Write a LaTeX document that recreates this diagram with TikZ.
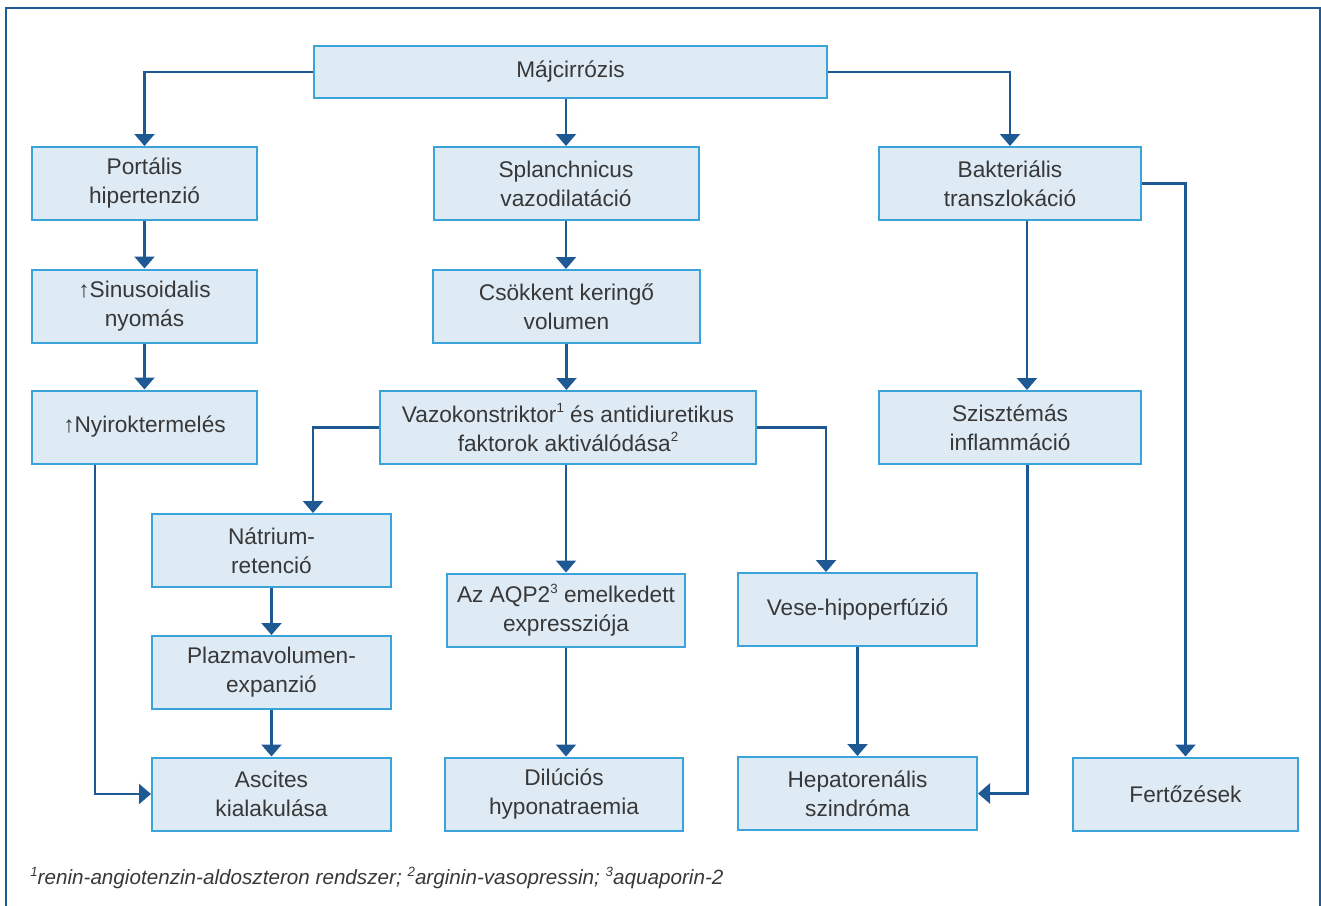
\documentclass[tikz,border=0pt]{standalone}
\usepackage{fontspec}
\setmainfont{Liberation Sans}
\usetikzlibrary{arrows.meta,calc,positioning}
\definecolor{framecol}{HTML}{1F5B98}
\definecolor{arrowcol}{HTML}{1E5994}
\definecolor{boxline}{HTML}{3AA3DA}
\definecolor{boxfill}{HTML}{DEEBF5}
\definecolor{textcol}{HTML}{383838}
\newcommand{\supnum}[1]{\raisebox{0.42em}{\fontsize{10}{10}\selectfont #1}}

\begin{document}
\begin{tikzpicture}[
  x=0.75pt, y=-0.75pt,
  box/.style={rectangle, draw=boxline, fill=boxfill, line width=1.5pt, inner sep=0pt,
    minimum width=179.25pt, minimum height=54.75pt, align=center, text=textcol,
    font=\fontsize{17}{21.75}\selectfont},
  arr/.style={-{Triangle[width=15pt,length=9pt]}, line width=1.7pt, arrowcol}
]
  \useasboundingbox (0,0) rectangle (1321,906);
  \draw[framecol, line width=1.3pt] (6,906) -- (6,8) -- (1320,8) -- (1320,906);

  % top row
  \node[box, minimum width=384.75pt, minimum height=39pt] (maj) at (570.5,72) {Májcirrózis};
  \node[box, minimum width=168.75pt] (port) at (144.5,183.5) {Portális\\hipertenzió};
  \node[box, minimum width=198.75pt] (splanch) at (566,183.5) {Splanchnicus\\vazodilatáció};
  \node[box, minimum width=196.5pt] (bakt) at (1010,183.5) {Bakteriális\\transzlokáció};

  % second and third rows
  \node[box, minimum width=168.75pt] (sinus) at (144.5,306) {↑Sinusoidalis\\nyomás};
  \node[box, minimum width=200.25pt] (csokk) at (566.5,306.5) {Csökkent keringő\\volumen};
  \node[box, minimum width=168.75pt] (nyirok) at (144.5,427) {↑Nyiroktermelés};
  \node[box, minimum width=282pt] (vazo) at (568,427.5)
    {Vazokonstriktor\supnum{1} és antidiuretikus\\faktorok aktiválódása\supnum{2}};
  \node[box, minimum width=196.5pt] (sziszt) at (1010,427.5) {Szisztémás\\inflammáció};

  % lower rows
  \node[box] (natr) at (271.5,550.5) {Nátrium-\\retenció};
  \node[box, minimum width=178.5pt] (aqp) at (566,610)
    {Az AQP2\supnum{3} emelkedett\\expressziója};
  \node[box] (vese) at (857.5,609.5) {Vese-hipoperfúzió};
  \node[box] (plazma) at (271.5,672.5) {Plazmavolumen-\\expanzió};

  % outcomes
  \node[box] (asc) at (271.5,794) {Ascites\\kialakulása};
  \node[box, minimum width=178.5pt] (dil) at (564,794) {Dilúciós\\hyponatraemia};
  \node[box] (hep) at (857.5,793.5) {Hepatorenális\\szindróma};
  \node[box, minimum width=168.75pt] (fert) at (1185.5,794) {Fertőzések};

  % connectors
  \draw[arr] (maj.west) -| (port.north);
  \draw[arr] (maj.south -| splanch.north) -- (splanch.north);
  \draw[arr] (maj.east) -| (bakt.north);
  \draw[arr] (port.south) -- (sinus.north);
  \draw[arr] (sinus.south) -- (nyirok.north);
  \draw[arr] ($(nyirok.south)+(-49.5,0)$) |- (asc.west);
  \draw[arr] (splanch.south) -- (splanch.south |- csokk.north);
  \draw[arr] (csokk.south) -- (csokk.south |- vazo.north);
  \draw[arr] (vazo.west) -| ($(natr.north)+(41.5,0)$);
  \draw[arr] (vazo.south -| aqp.north) -- (aqp.north);
  \draw[arr] (vazo.east) -| ($(vese.north)+(-31.5,0)$);
  \draw[arr] (natr.south) -- (plazma.north);
  \draw[arr] (plazma.south) -- (asc.north);
  \draw[arr] (aqp.south) -- (aqp.south |- dil.north);
  \draw[arr] (vese.south) -- (hep.north);
  \draw[arr] ($(bakt.south)+(17,0)$) -- ($(sziszt.north)+(17,0)$);
  \draw[arr] (bakt.east) -| (fert.north);
  \draw[arr] ($(sziszt.south)+(17.5,0)$) |- (hep.east);

  % footnote
  \node[anchor=west, text=textcol, font=\fontsize{15.5}{17}\selectfont\itshape, inner sep=0pt] (note) at (30,878)
    {\supnum{1}renin-angiotenzin-aldoszteron rendszer; \supnum{2}arginin-vasopressin; \supnum{3}aquaporin-2};
\end{tikzpicture}
\end{document}
